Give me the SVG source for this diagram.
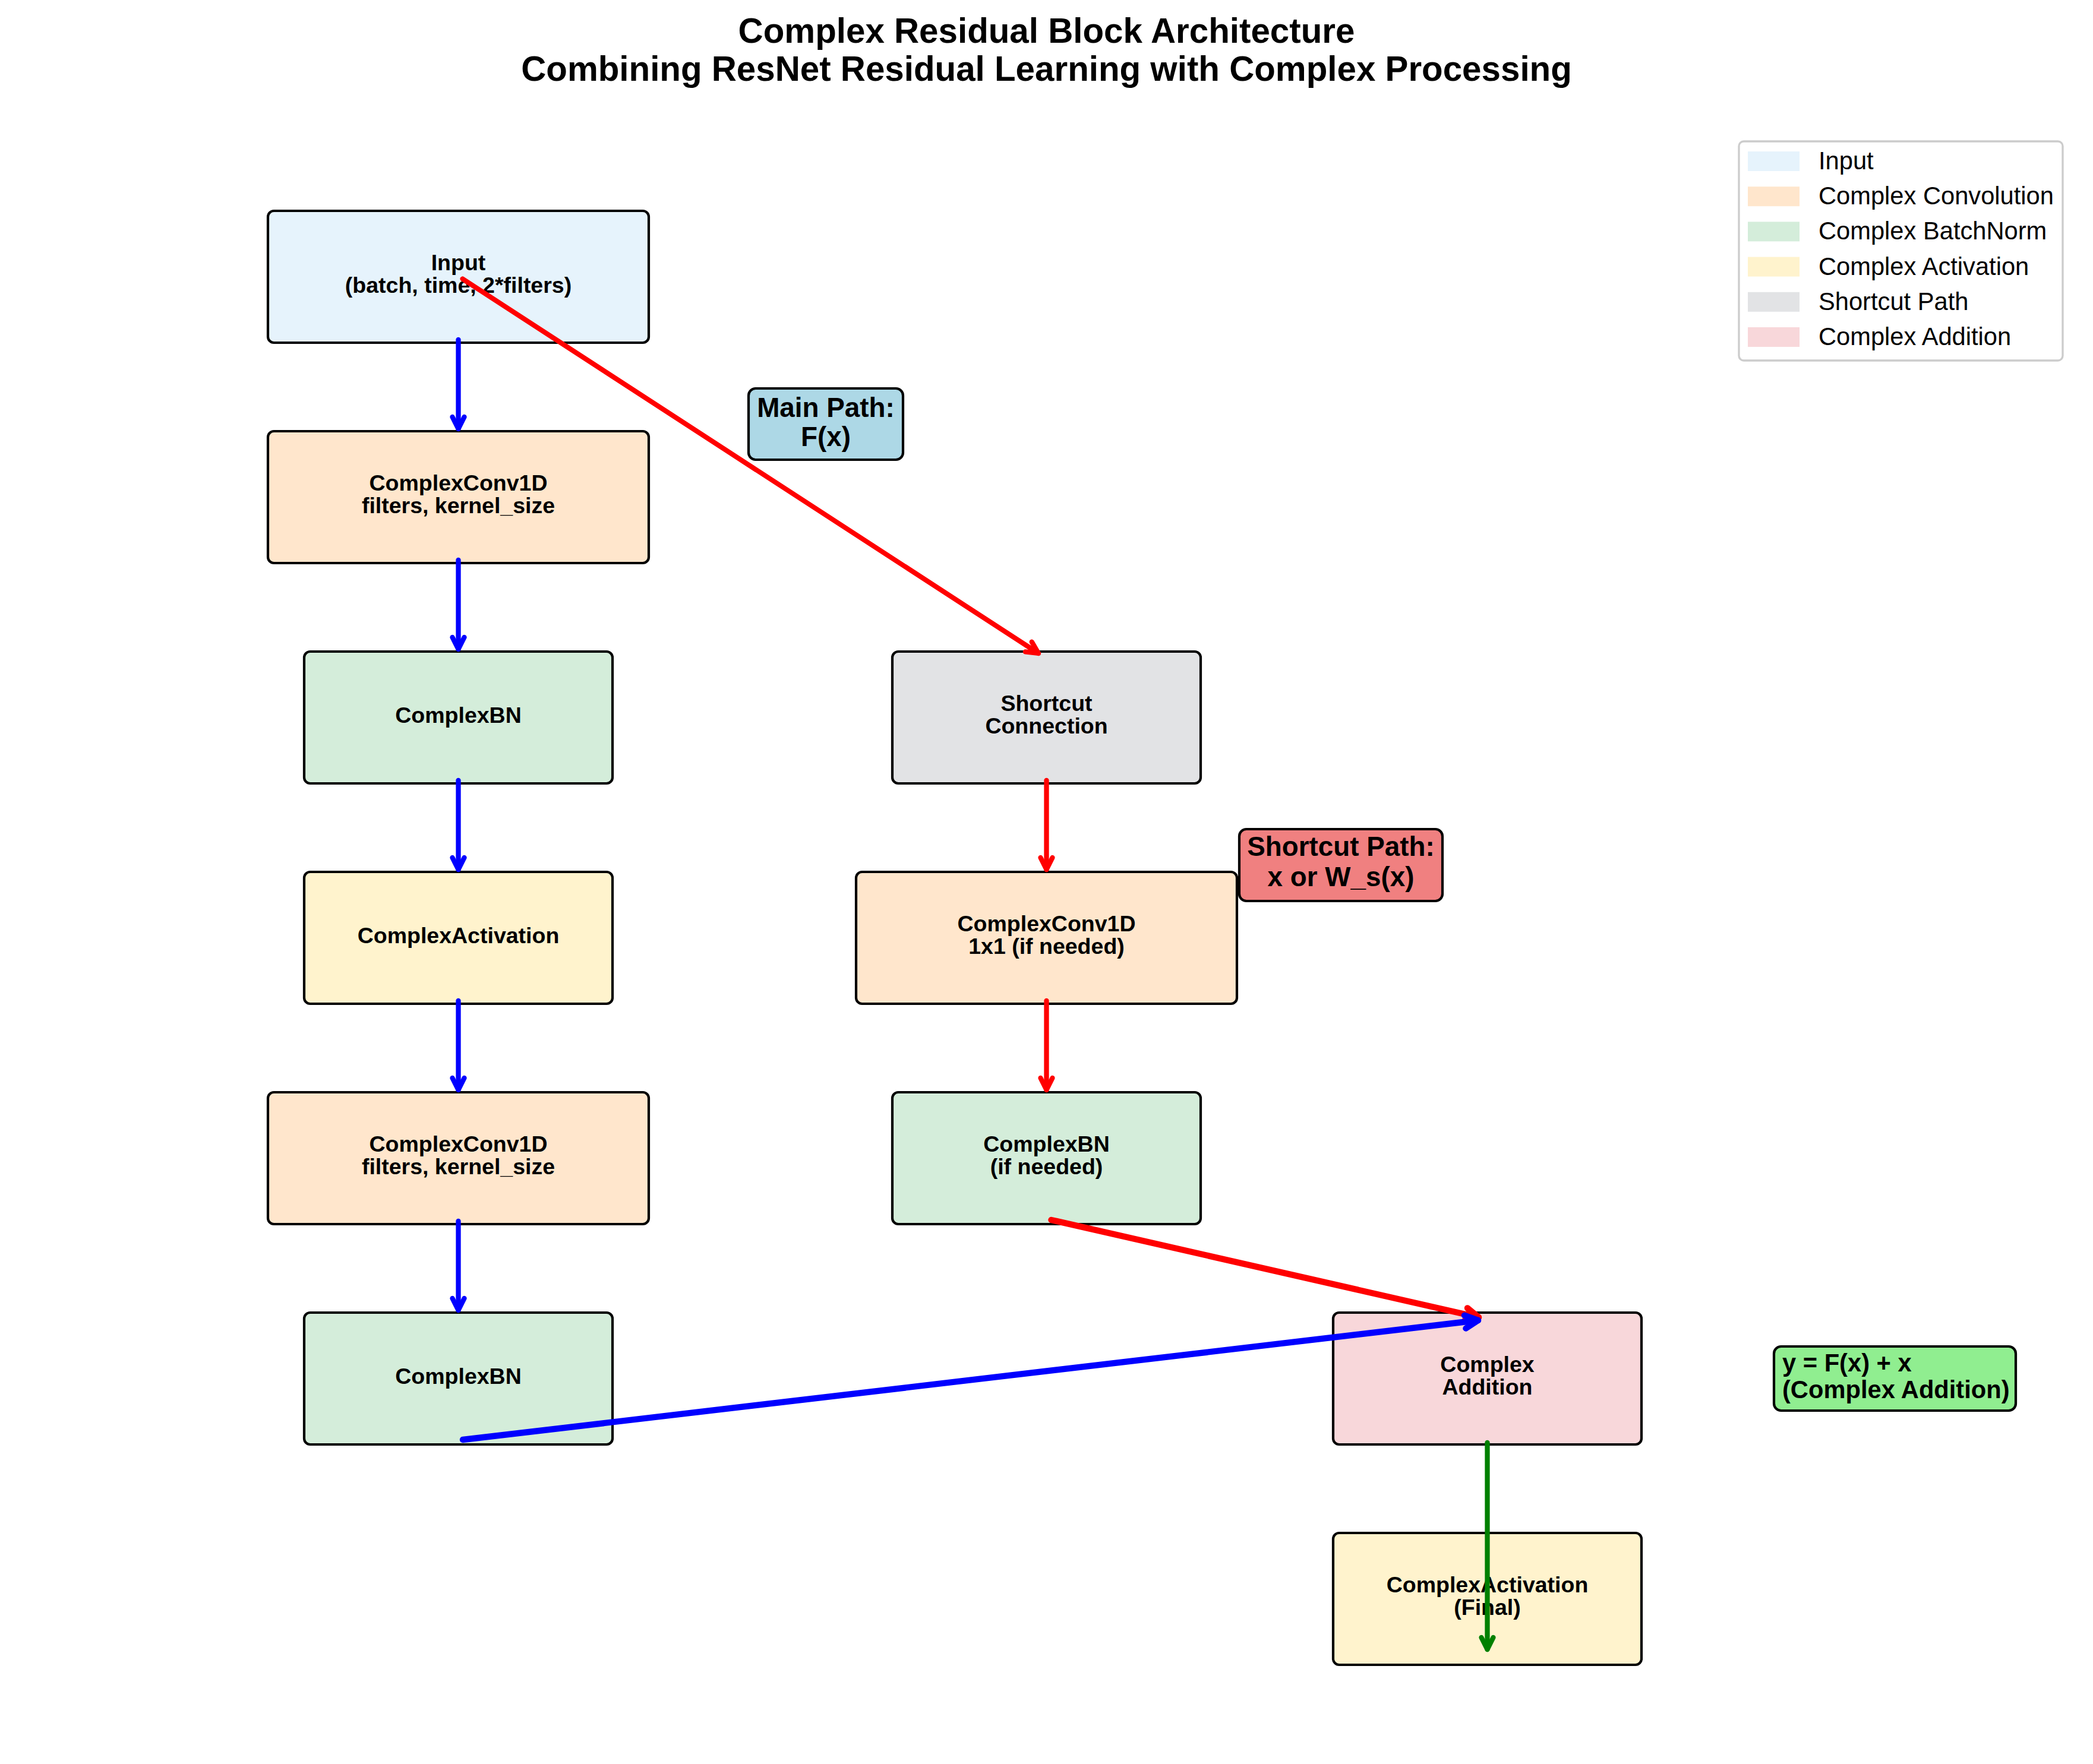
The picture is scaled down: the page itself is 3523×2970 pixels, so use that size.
<svg xmlns="http://www.w3.org/2000/svg" width="3523" height="2970" viewBox="0 0 3523 2970">
<defs>
<style>
text{font-family:"Liberation Sans",Arial,sans-serif;fill:#000}
.t{font-size:58.3px;font-weight:bold;text-anchor:middle}
.lbl{font-size:37.5px;font-weight:bold;text-anchor:middle}
.leg{font-size:41.67px}
.ann{font-size:45.8px;font-weight:bold;text-anchor:middle}
.form{font-size:41.67px;font-weight:bold}
.box{stroke:#000;stroke-width:4.2}
.abox{stroke:#000;stroke-width:4.2}
.in{fill:#E6F3FC}.cv{fill:#FFE6CC}.bn{fill:#D4EDDA}.ac{fill:#FFF3CD}.sc{fill:#E2E3E5}.ad{fill:#F8D7DA}
.c{fill:none;stroke-linecap:round;stroke-linejoin:round}
.cb{stroke:#0000FF;stroke-width:8.3}.cr{stroke:#FF0000;stroke-width:8.3}.cg{stroke:#008000;stroke-width:8.3}
.cw{stroke-width:10.4}
</style>
<marker id="hb" markerUnits="userSpaceOnUse" orient="auto" refX="0" refY="0" markerWidth="60" markerHeight="60" viewBox="-40 -30 60 60" overflow="visible"><path d="M-20,-10 L0,0 L-20,10" fill="none" stroke="#0000FF" stroke-width="8.3" stroke-linecap="round" stroke-linejoin="round"/></marker>
<marker id="hr" markerUnits="userSpaceOnUse" orient="auto" refX="0" refY="0" markerWidth="60" markerHeight="60" viewBox="-40 -30 60 60" overflow="visible"><path d="M-20,-10 L0,0 L-20,10" fill="none" stroke="#FF0000" stroke-width="8.3" stroke-linecap="round" stroke-linejoin="round"/></marker>
<marker id="hg" markerUnits="userSpaceOnUse" orient="auto" refX="0" refY="0" markerWidth="60" markerHeight="60" viewBox="-40 -30 60 60" overflow="visible"><path d="M-20,-10 L0,0 L-20,10" fill="none" stroke="#008000" stroke-width="8.3" stroke-linecap="round" stroke-linejoin="round"/></marker>
<marker id="hbw" markerUnits="userSpaceOnUse" orient="auto" refX="0" refY="0" markerWidth="60" markerHeight="60" viewBox="-40 -30 60 60" overflow="visible"><path d="M-22,-11 L0,0 L-22,11" fill="none" stroke="#0000FF" stroke-width="10.4" stroke-linecap="round" stroke-linejoin="round"/></marker>
<marker id="hrw" markerUnits="userSpaceOnUse" orient="auto" refX="0" refY="0" markerWidth="60" markerHeight="60" viewBox="-40 -30 60 60" overflow="visible"><path d="M-22,-11 L0,0 L-22,11" fill="none" stroke="#FF0000" stroke-width="10.4" stroke-linecap="round" stroke-linejoin="round"/></marker>
</defs>
<rect x="0" y="0" width="3523" height="2970" fill="#FFFFFF"/>
<g id="title">
<text class="t" x="1761.5" y="72">Complex Residual Block Architecture</text>
<text class="t" x="1761.5" y="136">Combining ResNet Residual Learning with Complex Processing</text>
</g>
<g id="nodes">
<g id="n-input"><rect class="box in" x="451" y="355" width="641" height="222" rx="10"/><text class="lbl" x="771.5" y="455">Input</text><text class="lbl" x="771.5" y="493">(batch, time, 2*filters)</text></g>
<g id="n-conv1"><rect class="box cv" x="451" y="726" width="641" height="222" rx="10"/><text class="lbl" x="771.5" y="826">ComplexConv1D</text><text class="lbl" x="771.5" y="864">filters, kernel_size</text></g>
<g id="n-bn1"><rect class="box bn" x="512" y="1097" width="519" height="222" rx="10"/><text class="lbl" x="771.5" y="1217">ComplexBN</text></g>
<g id="n-act1"><rect class="box ac" x="512" y="1468" width="519" height="222" rx="10"/><text class="lbl" x="771.5" y="1588">ComplexActivation</text></g>
<g id="n-conv2"><rect class="box cv" x="451" y="1839" width="641" height="222" rx="10"/><text class="lbl" x="771.5" y="1939">ComplexConv1D</text><text class="lbl" x="771.5" y="1977">filters, kernel_size</text></g>
<g id="n-bn2"><rect class="box bn" x="512" y="2210" width="519" height="222" rx="10"/><text class="lbl" x="771.5" y="2330">ComplexBN</text></g>
<g id="n-shortcut"><rect class="box sc" x="1502" y="1097" width="519" height="222" rx="10"/><text class="lbl" x="1761.5" y="1197">Shortcut</text><text class="lbl" x="1761.5" y="1235">Connection</text></g>
<g id="n-conv-sc"><rect class="box cv" x="1441" y="1468" width="641" height="222" rx="10"/><text class="lbl" x="1761.5" y="1568">ComplexConv1D</text><text class="lbl" x="1761.5" y="1606">1x1 (if needed)</text></g>
<g id="n-bn-sc"><rect class="box bn" x="1502" y="1839" width="519" height="222" rx="10"/><text class="lbl" x="1761.5" y="1939">ComplexBN</text><text class="lbl" x="1761.5" y="1977">(if needed)</text></g>
<g id="n-add"><rect class="box ad" x="2244" y="2210" width="519" height="222" rx="10"/><text class="lbl" x="2503.5" y="2310">Complex</text><text class="lbl" x="2503.5" y="2348">Addition</text></g>
<g id="n-act-final"><rect class="box ac" x="2244" y="2581" width="519" height="222" rx="10"/><text class="lbl" x="2503.5" y="2681">ComplexActivation</text><text class="lbl" x="2503.5" y="2719">(Final)</text></g>
</g>
<g id="annotations">
<g id="a-main"><rect class="abox" fill="#ADD8E6" x="1260" y="654" width="260" height="120" rx="12"/><text class="ann" x="1390" y="702">Main Path:</text><text class="ann" x="1390" y="751">F(x)</text></g>
<g id="a-shortcut"><rect class="abox" fill="#F08080" x="2086" y="1396" width="342" height="121" rx="12"/><text class="ann" x="2257" y="1441">Shortcut Path:</text><text class="ann" x="2257" y="1492">x or W_s(x)</text></g>
<g id="a-formula"><rect class="abox" fill="#90EE90" x="2986" y="2267" width="407" height="108" rx="12"/><text class="form" x="3000" y="2309">y = F(x) + x</text><text class="form" x="3000" y="2354">(Complex Addition)</text></g>
</g>
<g id="connectors">
<path class="c cb" d="M771.5,572 V722" marker-end="url(#hb)"/>
<path class="c cb" d="M771.5,943 V1093" marker-end="url(#hb)"/>
<path class="c cb" d="M771.5,1314 V1464" marker-end="url(#hb)"/>
<path class="c cb" d="M771.5,1685 V1835" marker-end="url(#hb)"/>
<path class="c cb" d="M771.5,2056 V2206" marker-end="url(#hb)"/>
<path class="c cr" d="M778.5,469.5 L1748,1100" marker-end="url(#hr)"/>
<path class="c cr" d="M1761.5,1314 V1464" marker-end="url(#hr)"/>
<path class="c cr" d="M1761.5,1685 V1835" marker-end="url(#hr)"/>
<path class="c cr cw" d="M1769.5,2054 L2489,2218" marker-end="url(#hrw)"/>
<path class="c cb cw" d="M779,2424 L2488,2223" marker-end="url(#hbw)"/>
<path class="c cg" d="M2503.5,2429 V2777" marker-end="url(#hg)"/>
</g>
<g id="legend">
<rect x="2927" y="238" width="545" height="369" rx="8" fill="#FFFFFF" fill-opacity="0.8" stroke="#CCCCCC" stroke-width="3.3"/>
<rect class="in" x="2942" y="255" width="87" height="33"/><text class="leg" x="3061" y="285">Input</text>
<rect class="cv" x="2942" y="314.2" width="87" height="33"/><text class="leg" x="3061" y="344.2">Complex Convolution</text>
<rect class="bn" x="2942" y="373.4" width="87" height="33"/><text class="leg" x="3061" y="403.4">Complex BatchNorm</text>
<rect class="ac" x="2942" y="432.6" width="87" height="33"/><text class="leg" x="3061" y="462.6">Complex Activation</text>
<rect class="sc" x="2942" y="491.8" width="87" height="33"/><text class="leg" x="3061" y="521.8">Shortcut Path</text>
<rect class="ad" x="2942" y="551" width="87" height="33"/><text class="leg" x="3061" y="581">Complex Addition</text>
</g>
</svg>
